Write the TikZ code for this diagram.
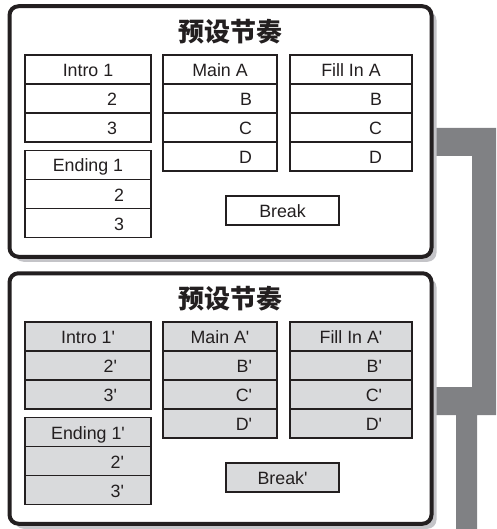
\documentclass[tikz,border=0pt]{standalone}
\usepackage{fontspec}
\newfontfamily\lab{Liberation Sans}
\newfontfamily\cjk{Noto Sans CJK SC}
\usetikzlibrary{shadows,backgrounds}
\definecolor{inkc}{HTML}{231F20}
\definecolor{shadowc}{HTML}{C4C4C8}
\definecolor{barc}{HTML}{808184}
\definecolor{cellg}{HTML}{D9DADC}
\tikzset{
  panel/.style={draw=inkc, line width=4pt, rounded corners=9pt, fill=white,
    minimum width=422pt, minimum height=250.5pt, inner sep=0pt,
    drop shadow={shadow xshift=5pt, shadow yshift=-5pt, fill=shadowc, opacity=1}},
  ttl/.style={font=\cjk\bfseries\fontsize{26}{26}\selectfont, inner sep=0pt, text=inkc},
  cell/.style={draw=inkc, line width=1.2pt, minimum height=29pt, inner sep=0pt,
    font=\lab\fontsize{17.8}{17.8}\selectfont, text=inkc, text height=14pt, text depth=0pt},
  bar/.style={fill=barc, draw=none}
}
\newcommand\mypanel[3]{%
  \begin{scope}[yshift=#2]
  \node[panel] (#1p) at (220.5,131.5) {};
  \node[ttl] (#1t) at (230,32) {预设节奏};
  % Intro column
  \node[cell, minimum width=126pt, fill=#3] (#1i1) at (88,69.5) {Intro 1\ifx#1b'\fi};
  \node[cell, minimum width=126pt, fill=#3, text width=58pt, align=right] (#1i2) at (88,98.5) {2\ifx#1b'\fi};
  \node[cell, minimum width=126pt, fill=#3, text width=58pt, align=right] (#1i3) at (88,127.5) {3\ifx#1b'\fi};
  % Ending column
  \node[cell, minimum width=126pt, fill=#3] (#1e1) at (88,165) {Ending 1\ifx#1b'\fi};
  \node[cell, minimum width=126pt, fill=#3, text width=72pt, align=right] (#1e2) at (88,194) {2\ifx#1b'\fi};
  \node[cell, minimum width=126pt, fill=#3, text width=72pt, align=right] (#1e3) at (88,223) {3\ifx#1b'\fi};
  % Main column
  \node[cell, minimum width=114pt, fill=#3] (#1m1) at (220,69.5) {Main A\ifx#1b'\fi};
  \node[cell, minimum width=114pt, fill=#3, text width=64pt, align=right] (#1m2) at (220,98.5) {B\ifx#1b'\fi};
  \node[cell, minimum width=114pt, fill=#3, text width=64pt, align=right] (#1m3) at (220,127.5) {C\ifx#1b'\fi};
  \node[cell, minimum width=114pt, fill=#3, text width=64pt, align=right] (#1m4) at (220,156.5) {D\ifx#1b'\fi};
  % Fill In column
  \node[cell, minimum width=122pt, fill=#3] (#1f1) at (351,69.5) {Fill In A\ifx#1b'\fi};
  \node[cell, minimum width=122pt, fill=#3, text width=62pt, align=right] (#1f2) at (351,98.5) {B\ifx#1b'\fi};
  \node[cell, minimum width=122pt, fill=#3, text width=62pt, align=right] (#1f3) at (351,127.5) {C\ifx#1b'\fi};
  \node[cell, minimum width=122pt, fill=#3, text width=62pt, align=right] (#1f4) at (351,156.5) {D\ifx#1b'\fi};
  % Break
  \node[cell, minimum width=113pt, fill=#3] (#1br) at (282.5,210.5) {Break\ifx#1b'\fi};
  \end{scope}}
\begin{document}
\begin{tikzpicture}[x=1pt, y=-1pt]
\useasboundingbox (0,0) rectangle (496,529);
\mypanel{t}{0pt}{white}
\mypanel{b}{-267pt}{cellg}
\begin{pgfonlayer}{background}
  \fill[bar] (tp.east |- 0,128) -- (496,128) -- (496,415) -- (477,415) -- (477,529)
    -- (456,529) -- (456,415) -- (bp.east |- 0,415) -- (bp.east |- 0,387) -- (472,387)
    -- (472,156) -- (tp.east |- 0,156) -- cycle;
\end{pgfonlayer}
\end{tikzpicture}
\end{document}
